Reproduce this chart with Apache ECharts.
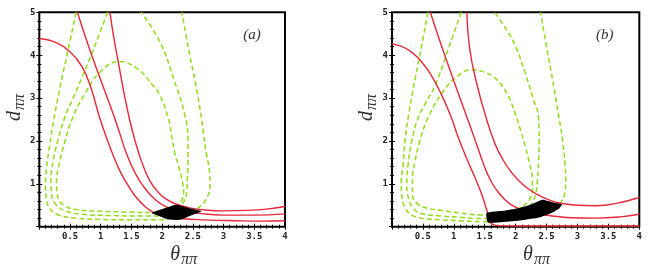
<!DOCTYPE html>
<html><head><meta charset="utf-8">
<script src="https://cdn.jsdelivr.net/npm/echarts@6/dist/echarts.min.js"></script>
<style>html,body{margin:0;padding:0;background:#fff}#c{width:654px;height:273px}</style>
</head><body><div id="c"></div>
<script>
// ---------- Panel (a) ----------
const redA1 = [[0,4.39],[0.25,4.31],[0.5,4.08],[0.7,3.72],[0.85,3.2],[0.97,2.6],[1.1,2.05],[1.22,1.6],[1.33,1.25],[1.45,0.95],[1.58,0.68],[1.72,0.47],[1.86,0.33],[2.0,0.25],[2.3,0.19],[2.7,0.16],[3.2,0.14],[3.6,0.13],[4,0.14]];
const redA2 = [[0.62,5],[0.8,4.22],[1.0,3.42],[1.2,2.64],[1.3,2.22],[1.42,1.7],[1.55,1.28],[1.7,0.93],[1.88,0.64],[2.06,0.47],[2.3,0.37],[2.6,0.31],[3,0.27],[3.5,0.27],[4,0.3]];
const redA3 = [[1.15,5],[1.22,4.35],[1.3,3.73],[1.38,3.11],[1.47,2.5],[1.56,2.0],[1.67,1.5],[1.8,1.07],[1.95,0.78],[2.08,0.63],[2.22,0.53],[2.45,0.44],[2.7,0.39],[3.0,0.37],[3.4,0.38],[3.7,0.41],[4,0.47]];
const greenA1 = [[2.2,0.47],[2.3,0.58],[2.35,0.8],[2.33,1.05],[2.27,1.4],[2.21,1.7],[2.15,2.15],[2.1,2.53],[1.96,3.08],[1.84,3.31],[1.6,3.68],[1.3,3.85],[1.0,3.62],[0.75,3.12],[0.54,2.53],[0.42,2.0],[0.33,1.5],[0.28,1.05],[0.3,0.7],[0.4,0.5],[0.6,0.4],[1.0,0.36],[1.5,0.34],[1.9,0.33],[2.1,0.38],[2.2,0.47]];
const greenA2 = [[1.11,5],[0.9,4.2],[0.7,3.5],[0.55,3.0],[0.41,2.53],[0.3,2.0],[0.22,1.5],[0.19,1.1],[0.2,0.75],[0.27,0.52],[0.42,0.37],[0.7,0.29],[1.2,0.26],[1.6,0.25],[1.9,0.25],[2.1,0.3],[2.25,0.42],[2.35,0.58],[2.4,0.82],[2.41,1.1],[2.42,1.5],[2.42,2.0],[2.37,2.6],[2.2,3.4],[1.96,4.32],[1.66,5]];
const greenA3 = [[0.6,5],[0.45,4.0],[0.33,3.2],[0.24,2.53],[0.17,1.9],[0.12,1.4],[0.1,1.0],[0.11,0.7],[0.16,0.45],[0.3,0.28],[0.6,0.2],[1.0,0.17],[1.5,0.16],[1.9,0.16],[2.2,0.22],[2.45,0.35],[2.6,0.45],[2.72,0.65],[2.78,0.97],[2.77,1.3],[2.72,1.7],[2.67,2.2],[2.64,2.53],[2.55,3.3],[2.45,4.0],[2.32,5]];
const blackA = [[1.83,0.32],[2.0,0.41],[2.23,0.51],[2.45,0.43],[2.64,0.36],[2.45,0.25],[2.29,0.16],[2.15,0.16],[2.05,0.19],[1.93,0.26]];

// ---------- Panel (b) ----------
const redB1 = [[0,4.27],[0.26,4.13],[0.47,3.86],[0.64,3.52],[0.8,3.08],[0.95,2.58],[1.08,2.05],[1.22,1.55],[1.35,1.12],[1.46,0.72],[1.53,0.4],[1.57,0.2],[1.62,0.06],[1.75,0.02],[2.5,0.015],[3.5,0.015],[4,0.015]];
const redB2 = [[0.62,5],[0.8,4.22],[1.0,3.4],[1.2,2.6],[1.3,2.2],[1.39,1.83],[1.47,1.5],[1.55,1.21],[1.63,0.99],[1.71,0.82],[1.82,0.64],[1.93,0.51],[2.05,0.42],[2.3,0.32],[2.6,0.25],[2.9,0.21],[3.3,0.2],[3.7,0.23],[4,0.29]];
const redB3 = [[1.21,5],[1.26,4.12],[1.37,3.34],[1.52,2.55],[1.67,1.92],[1.8,1.55],[1.93,1.27],[2.12,0.98],[2.34,0.76],[2.55,0.62],[2.75,0.54],[3.0,0.5],[3.3,0.49],[3.65,0.55],[4,0.68]];
const greenB1 = [[2.12,0.48],[2.22,0.62],[2.27,0.85],[2.27,1.1],[2.22,1.5],[2.16,1.85],[2.08,2.25],[2.0,2.6],[1.88,3.05],[1.7,3.42],[1.5,3.6],[1.29,3.66],[1.05,3.5],[0.8,3.1],[0.58,2.53],[0.45,2.0],[0.37,1.5],[0.33,1.1],[0.33,0.75],[0.4,0.55],[0.55,0.44],[0.8,0.38],[1.1,0.32],[1.44,0.27],[1.7,0.3],[1.95,0.37],[2.12,0.48]];
const greenB2 = [[1.12,5],[0.9,4.1],[0.7,3.3],[0.55,2.9],[0.42,2.53],[0.32,2.0],[0.26,1.44],[0.24,1.0],[0.27,0.65],[0.35,0.42],[0.47,0.31],[0.8,0.25],[1.1,0.22],[1.44,0.19],[1.7,0.2],[1.95,0.27],[2.12,0.38],[2.25,0.52],[2.32,0.75],[2.35,1.05],[2.37,1.5],[2.38,2.0],[2.37,2.55],[2.28,3.0],[2.15,3.6],[2.0,4.2],[1.85,4.6],[1.66,5]];
const greenB3 = [[0.58,5],[0.45,4.0],[0.34,3.2],[0.26,2.53],[0.21,2.0],[0.18,1.44],[0.15,1.05],[0.16,0.7],[0.22,0.42],[0.32,0.27],[0.47,0.2],[0.8,0.16],[1.1,0.14],[1.44,0.12],[1.8,0.14],[2.1,0.2],[2.4,0.3],[2.6,0.42],[2.72,0.55],[2.8,0.82],[2.81,1.1],[2.8,1.44],[2.76,2.0],[2.7,2.55],[2.6,3.4],[2.5,4.2],[2.4,5]];
const blackB = [[1.53,0.32],[1.8,0.37],[2.04,0.43],[2.25,0.52],[2.43,0.63],[2.6,0.57],[2.75,0.52],[2.7,0.42],[2.55,0.3],[2.4,0.22],[2.1,0.15],[1.8,0.11],[1.55,0.1]];

const panelLabels = ['(a)', '(b)'];
const xName = ['θ', 'ππ'];
const yName = ['d', 'ππ'];

const RED = '#e8283a', GREEN = '#92dc1c';
const serif = 'Liberation Serif';
const tickFont = {fontFamily: 'DejaVu Sans Mono', fontSize: 9, fontWeight: 'bold', color: '#222'};

const grids = [
  {left: 39.3, top: 12.3, width: 245.7, height: 214.4},
  {left: 392, top: 12.3, width: 247.3, height: 214.4}
];

function xAx(gi, pos) {
  return {type: 'value', gridIndex: gi, position: pos, min: 0, max: 4, interval: 0.5,
    axisLine: {show: false}, splitLine: {show: false},
    axisTick: {show: true, inside: false, length: 3, lineStyle: {color: '#000', width: 1}},
    minorTick: {show: true, splitNumber: 5, length: 2, lineStyle: {color: '#000', width: 1}},
    axisLabel: pos === 'bottom' ? Object.assign({show: true, margin: 5, formatter: v => v === 0 ? '' : String(v)}, tickFont) : {show: false}};
}
function yAx(gi, pos) {
  return {type: 'value', gridIndex: gi, position: pos, min: 0, max: 5, interval: 1,
    axisLine: {show: false}, splitLine: {show: false},
    axisTick: {show: true, inside: false, length: 3, lineStyle: {color: '#000', width: 1}},
    minorTick: {show: true, splitNumber: 5, length: 2, lineStyle: {color: '#000', width: 1}},
    axisLabel: pos === 'left' ? Object.assign({show: true, margin: 4, formatter: v => v === 0 ? '' : String(v)}, tickFont) : {show: false}};
}

function line(data, gi, green) {
  return {type: 'line', data: data, xAxisIndex: gi * 2, yAxisIndex: gi * 2,
    smooth: 0.45, symbol: 'none', silent: true, z: green ? 2 : 3,
    lineStyle: {color: green ? GREEN : RED, width: green ? 1.5 : 1.4, type: green ? [5, 3] : 'solid'}};
}
function blob(poly, gi) {
  return {type: 'custom', xAxisIndex: gi * 2, yAxisIndex: gi * 2, data: poly, z: 5, silent: true,
    renderItem: function (params, api) {
      if (params.dataIndex !== 0) return null;
      const pts = poly.map(p => api.coord(p));
      return {type: 'polygon', shape: {points: pts, smooth: 0.15}, style: {fill: '#000'}};
    }};
}

const graphics = [];
grids.forEach((g, i) => {
  graphics.push({type: 'text', x: g.left + 204, y: 28, style: {text: panelLabels[i], font: 'italic 15px ' + serif, fill: '#333'}});
  graphics.push({type: 'text', x: g.left + 131, y: 245, style: {text: xName[0], font: 'italic 20px ' + serif, fill: '#333'}});
  graphics.push({type: 'text', x: g.left + 142, y: 252, style: {text: xName[1], font: 'italic 16px ' + serif, fill: '#333'}});
  graphics.push({type: 'group', x: g.left - 35, y: 121, rotation: Math.PI / 2, children: [
    {type: 'text', x: 0, y: 0, style: {text: yName[0], font: 'italic 20px ' + serif, fill: '#333'}},
    {type: 'text', x: 11, y: 7, style: {text: yName[1], font: 'italic 16px ' + serif, fill: '#333'}}
  ]});
});

const chart = echarts.init(document.getElementById('c'), null, {renderer: 'canvas'});
chart.setOption({
  animation: false,
  backgroundColor: '#fff',
  grid: grids.map(g => Object.assign({show: true, borderColor: '#000', borderWidth: 2, backgroundColor: 'transparent'}, g)),
  xAxis: [xAx(0, 'bottom'), xAx(0, 'top'), xAx(1, 'bottom'), xAx(1, 'top')],
  yAxis: [yAx(0, 'left'), yAx(0, 'right'), yAx(1, 'left'), yAx(1, 'right')],
  series: [
    line(greenA1, 0, true), line(greenA2, 0, true), line(greenA3, 0, true),
    line(redA1, 0, false), line(redA2, 0, false), line(redA3, 0, false),
    blob(blackA, 0),
    line(greenB1, 1, true), line(greenB2, 1, true), line(greenB3, 1, true),
    line(redB1, 1, false), line(redB2, 1, false), line(redB3, 1, false),
    blob(blackB, 1)
  ],
  graphic: graphics
});
</script></body></html>
